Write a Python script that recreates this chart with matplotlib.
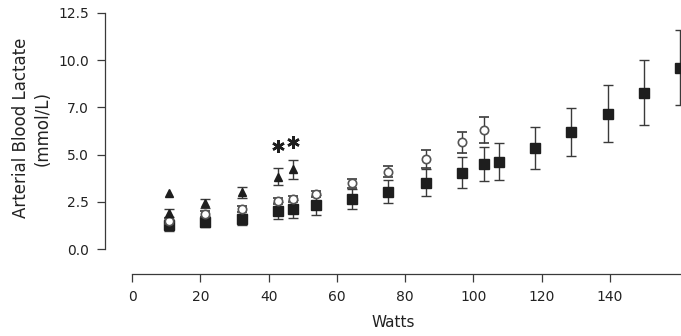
import numpy as np
import matplotlib
matplotlib.use("Agg")
import matplotlib.pyplot as plt

# x positions as they sit on the drawn Watts axis
sq_x = [10.8, 21.4, 32.3, 42.8, 47.2, 53.9, 64.5, 75, 86, 96.7, 103, 107.4, 118, 128.7, 139.6, 150, 160.7]
sq_y = [1.27, 1.45, 1.57, 2.03, 2.10, 2.33, 2.65, 3.03, 3.51, 4.04, 4.48, 4.62, 5.36, 6.19, 7.16, 8.27, 9.60]
sq_err = [0.30, 0.30, 0.30, 0.46, 0.48, 0.53, 0.55, 0.60, 0.72, 0.82, 0.90, 0.98, 1.12, 1.28, 1.50, 1.73, 1.98]

circ_x = [10.8, 21.4, 32.3, 42.8, 47.2, 53.9, 64.5, 75, 86, 96.7, 103]
circ_y = [1.50, 1.85, 2.12, 2.56, 2.66, 2.91, 3.47, 4.09, 4.75, 5.66, 6.30]
circ_err = [0.15, 0.15, 0.15, 0.15, 0.15, 0.18, 0.22, 0.30, 0.48, 0.55, 0.70]

tri_x = [10.8, 21.4, 32.3, 42.8, 47.2]
tri_y = [1.89, 2.42, 3.00, 3.83, 4.22]
tri_err = [0.21, 0.24, 0.30, 0.45, 0.52]

tri2_x = [10.8]
tri2_y = [2.95]

star_x = [42.8, 47.2]
star_y = [5.45, 5.65]

yticks = [0, 2.5, 5, 7.5, 10, 12.5]
ytick_labels = ["0.0", "2.5", "5.0", "7.0", "10.0", "12.5"]
xticks = [0, 20, 40, 60, 80, 100, 120, 140]

plt.rcParams['font.family'] = ['DejaVu Sans']

fig = plt.figure(figsize=(6.81, 3.36), dpi=100)
ax = fig.add_axes([105 / 681, 62 / 336, 577 / 681, 263 / 336])

dark = '#1e1e1e'
grey = '#3a3a3a'

ax.errorbar(sq_x, sq_y, yerr=sq_err, fmt='s', ms=7.2, color=dark, ecolor=grey,
            elinewidth=1.0, capsize=3.4, capthick=1.0, zorder=2)
ax.errorbar(circ_x, circ_y, yerr=circ_err, fmt='o', ms=6, mfc='white', mec='#555555',
            mew=1.2, ecolor=grey, elinewidth=1.0, capsize=3.4, capthick=1.0, zorder=3)
ax.errorbar(tri_x, tri_y, yerr=tri_err, fmt='^', ms=6, color=dark, ecolor=grey,
            elinewidth=1.0, capsize=3.4, capthick=1.0, zorder=4)
ax.plot(tri2_x, tri2_y, '^', ms=6, color=dark, zorder=4)
ax.plot(star_x, star_y, linestyle='none', marker=(6, 2, 0), ms=9, mew=1.8, color=dark, zorder=4)

ax.set_xlim(-8, 161.2)
ax.set_ylim(-1.32, 12.6)

for s in ['top', 'right']:
    ax.spines[s].set_visible(False)
ax.spines['left'].set_bounds(0, 12.5)
ax.spines['bottom'].set_bounds(0, 161.2)
for s in ['left', 'bottom']:
    ax.spines[s].set_color(grey)
    ax.spines[s].set_linewidth(0.9)

ax.set_yticks(yticks)
ax.set_yticklabels(ytick_labels)
ax.set_xticks(xticks)
ax.tick_params(axis='both', length=5.5, width=0.9, color=grey, labelcolor='#222222',
               labelsize=10, pad=6)

ax.set_xlabel("Watts", fontsize=11, color='#222222', labelpad=8)
ax.set_ylabel("Arterial Blood Lactate\n(mmol/L)", fontsize=12, color='#222222', linespacing=1.25)
ax.yaxis.set_label_coords(-0.092, 0.555)

fig.savefig("out.png", dpi=100)
